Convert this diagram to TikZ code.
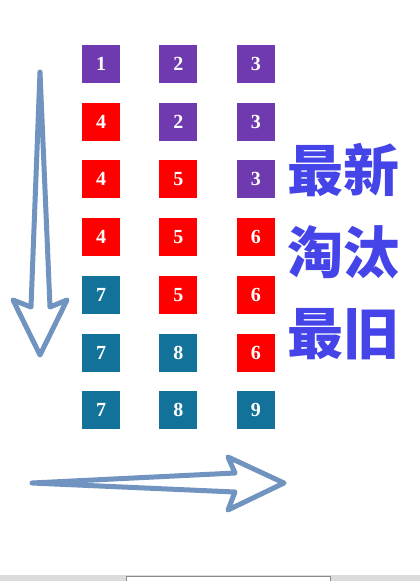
\documentclass[tikz,border=0pt]{standalone}
\usepackage{fontspec}
\newfontfamily\cjk{Noto Sans CJK SC}
\newfontfamily\digits{Liberation Serif}
\usepackage{tikz}
\usetikzlibrary{positioning}
\definecolor{boxpurple}{RGB}{111,58,176}
\definecolor{boxred}{RGB}{255,0,0}
\definecolor{boxteal}{RGB}{18,114,153}
\definecolor{arrowblue}{RGB}{112,147,192}
\definecolor{wordblue}{RGB}{68,68,232}
\tikzset{page/.style={minimum width=38pt, minimum height=38pt, inner sep=0pt,
        text=white, font=\digits\fontsize{20}{22}\selectfont\bfseries},
    bigarrow/.style={draw=arrowblue, line width=5pt, line join=round, line cap=round},
    word/.style={font=\cjk\fontsize{56}{60}\selectfont\bfseries, text=wordblue, inner sep=0pt}}

\begin{document}
\begin{tikzpicture}[x=1pt,y=-1pt]
        \useasboundingbox (0,0) rectangle (420,581);
        % page frames, one row per step
        \foreach \r/\a/\ca/\b/\cb/\c/\cc in {1/1/boxpurple/2/boxpurple/3/boxpurple,
                2/4/boxred/2/boxpurple/3/boxpurple, 3/4/boxred/5/boxred/3/boxpurple,
                4/4/boxred/5/boxred/6/boxred, 5/7/boxteal/5/boxred/6/boxred,
                6/7/boxteal/8/boxteal/6/boxred, 7/7/boxteal/8/boxteal/9/boxteal} {
            \node[page, fill=\ca] (p\r a) at (101,{64+57.7*(\r-1)}) {\a};
            \node[page, fill=\cb, right=39pt of p\r a] (p\r b) {\b};
            \node[page, fill=\cc, right=39pt of p\r b] (p\r c) {\c};
        }
        % time goes down
        \draw[bigarrow] (40,72) -- (31,307) -- (13,300) -- (40,355) -- (67,300) -- (50,307) -- cycle;
        % pages go right
        \draw[bigarrow] (32,483) -- (235,492) -- (228,510) -- (284,483) -- (228,457) -- (235,473) -- cycle;
        % label
        \node[word] (new) at (343,170) {最新};
        \node[word] (out) at (343,252) {淘汰};
        \node[word] (old) at (343,334) {最旧};
        % window bar
        \fill[black!14] (0,575) rectangle (420,581);
        \draw[black!45, fill=white] (126,576) rectangle (330,582);
      \end{tikzpicture}
\end{document}
